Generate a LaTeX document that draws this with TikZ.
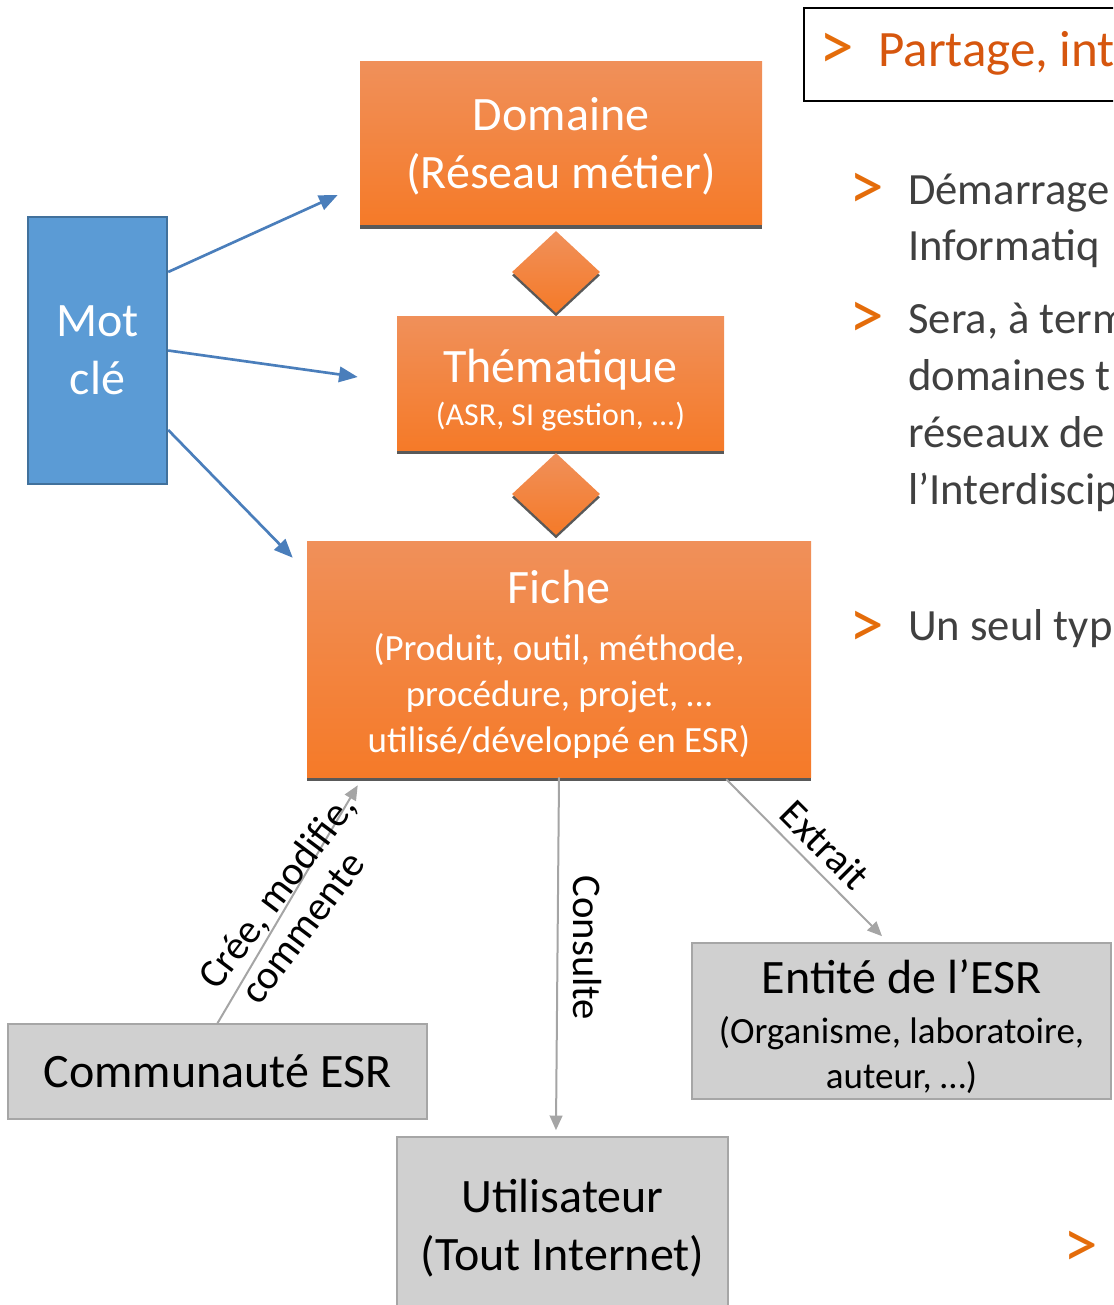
\documentclass[tikz,border=0pt]{standalone}
\usepackage{fontspec}
\setmainfont{Carlito}
\usetikzlibrary{arrows.meta,shapes.geometric,shadows}

\definecolor{oTop}{RGB}{240,144,90}
\definecolor{oBot}{RGB}{245,122,40}
\definecolor{shd}{RGB}{89,89,89}
\definecolor{mkFill}{RGB}{91,155,213}
\definecolor{mkLine}{RGB}{65,113,156}
\definecolor{blueArr}{RGB}{74,126,187}
\definecolor{grayFill}{RGB}{208,208,208}
\definecolor{grayLine}{RGB}{166,166,166}
\definecolor{grayArr}{RGB}{165,165,165}
\definecolor{txtGray}{RGB}{64,64,64}
\definecolor{bulOr}{RGB}{228,108,10}
\definecolor{headOr}{RGB}{214,86,14}

\newcommand{\fBig}{\fontsize{36}{43.5}\selectfont}
\newcommand{\fLbl}{\fontsize{30.5}{31.5}\selectfont}
\newcommand{\fBul}{\fontsize{33.5}{42.75}\selectfont}
\newcommand{\fHead}{\fontsize{38.25}{46}\selectfont}
\newcommand{\fMark}{\fontsize{52}{52}\selectfont}

\tikzset{
  obox/.style={rectangle, inner sep=0pt, top color=oTop, bottom color=oBot,
    text=white, align=center,
    drop shadow={shadow xshift=0pt, shadow yshift=-3pt, fill=shd, opacity=1}},
  odia/.style={diamond, inner sep=0pt, top color=oTop, bottom color=oBot,
    minimum width=66pt, minimum height=61.5pt,
    drop shadow={shadow xshift=0pt, shadow yshift=-2.5pt, fill=shd, opacity=1}},
  mkbox/.style={rectangle, inner sep=0pt, fill=mkFill, draw=mkLine, line width=1.8pt,
    text=white, align=center, font=\fBig},
  gbox/.style={rectangle, inner sep=0pt, fill=grayFill, draw=grayLine, line width=1.2pt,
    text=black, align=center},
  barr/.style={draw=blueArr, line width=2pt, -{Triangle[length=14pt,width=11.5pt]}},
  garr/.style={draw=grayArr, line width=1.5pt, -{Triangle[length=11pt,width=9.5pt]}},
  lbl/.style={inner sep=0pt, align=center, font=\fLbl, text=black},
  bultxt/.style={inner sep=0pt, anchor=base west, align=left, font=\fBul, text=txtGray},
  bulmark/.style={inner sep=0pt, anchor=center, font=\fMark, text=bulOr},
}

\begin{document}
\begin{tikzpicture}[x=0.75pt,y=-0.75pt]
\useasboundingbox (0,0) rectangle (1113,1305);
\clip (0,0) rectangle (1113,1305);

% orange hierarchy
\node[obox, minimum width=301.5pt, minimum height=122.25pt, font=\fBig] (dom) at (561,143.5)
  {\mbox{}\\[-14.5pt]Domaine\\(Réseau métier)};
\node[odia] (d1) at (556,272) {};
\node[obox, minimum width=245.25pt, minimum height=100.5pt, font=\fontsize{24}{29}\selectfont] (them) at (560.5,383)
  {\mbox{}\\[6.5pt]{\fBig Thématique}\\[3pt](ASR, SI gestion, ...)};
\node[odia] (d2) at (556,494) {};
\node[obox, minimum width=378pt, minimum height=177pt, font=\fontsize{27.75}{34.5}\selectfont] (fiche) at (559,659)
  {\mbox{}\\[-1.5pt]{\fBig Fiche}\\[8pt](Produit, outil, méthode,\\procédure, projet, …\\utilisé/développé en ESR)};

% mot cle
\node[mkbox, minimum width=104.25pt, minimum height=200.25pt] (mk) at (97.5,350.5) {Mot\\clé};

% gray boxes
\node[gbox, minimum width=314.25pt, minimum height=71.25pt, font=\fBig] (com) at (217.5,1071.5) {Communauté ESR};
\node[gbox, minimum width=248.25pt, minimum height=137.25pt, font=\fBig] (ut) at (562.5,1228.5) {Utilisateur\\(Tout Internet)};
\node[gbox, minimum width=314.25pt, minimum height=117pt, font=\fontsize{27.75}{34}\selectfont] (ent) at (901.5,1021)
  {\mbox{}\\[0pt]{\fBig Entité de l’ESR}\\[3pt](Organisme, laboratoire,\\auteur, …)};

% blue arrows
\draw[barr] ([yshift=58.9pt]mk.east) -- ([xshift=-16.5pt,yshift=-38.6pt]dom.west);
\draw[barr] (mk.east) -- ([xshift=-29.25pt,yshift=4.5pt]them.west);
\draw[barr] ([yshift=-59.6pt]mk.east) -- ([xshift=-10.5pt,yshift=-12.75pt]fiche.north west);

% gray arrows
\draw[garr] (com.north) -- ([xshift=38.25pt,yshift=-6pt]fiche.south west);
\draw[garr] (fiche.south) -- ([xshift=-4.9pt,yshift=4.5pt]ut.north);
\draw[garr] ([xshift=-63.75pt,yshift=-1.5pt]fiche.south east) -- ([xshift=-14.6pt,yshift=4.5pt]ent.north);

% labels
\node[lbl, rotate=53] (lcree) at (289,909) {\hspace*{10.5pt}Crée, modifie,\\commente\hspace*{10.5pt}};
\node[lbl, rotate=-90] (lcons) at (587,948) {Consulte};
\node[lbl, rotate=-45] (lext) at (825,845) {Extrait};

% right side
\node[draw=black, line width=1.5pt, inner sep=0pt, anchor=north west,
      minimum width=240pt, minimum height=69.75pt] (hdr) at (803,7) {};
\node[bulmark] (hb) at (837,51) {>};
\node[inner sep=0pt, anchor=base west, font=\fHead, text=headOr] (ht) at (878,67) {Partage, int};

\node[bulmark] (b1) at (867,191) {>};
\node[bultxt] (t1) at (908,261) {Démarrage\\Informatiq};
\node[bulmark] (b2) at (867,320) {>};
\node[bultxt] (t2) at (908,504) {Sera, à term\\domaines t\\réseaux de\\l’Interdiscip};
\node[bulmark] (b3) at (867,629) {>};
\node[bultxt] (t3) at (908,640) {Un seul typ};
\node[bulmark] (b4) at (1081,1249) {>};
\end{tikzpicture}
\end{document}
